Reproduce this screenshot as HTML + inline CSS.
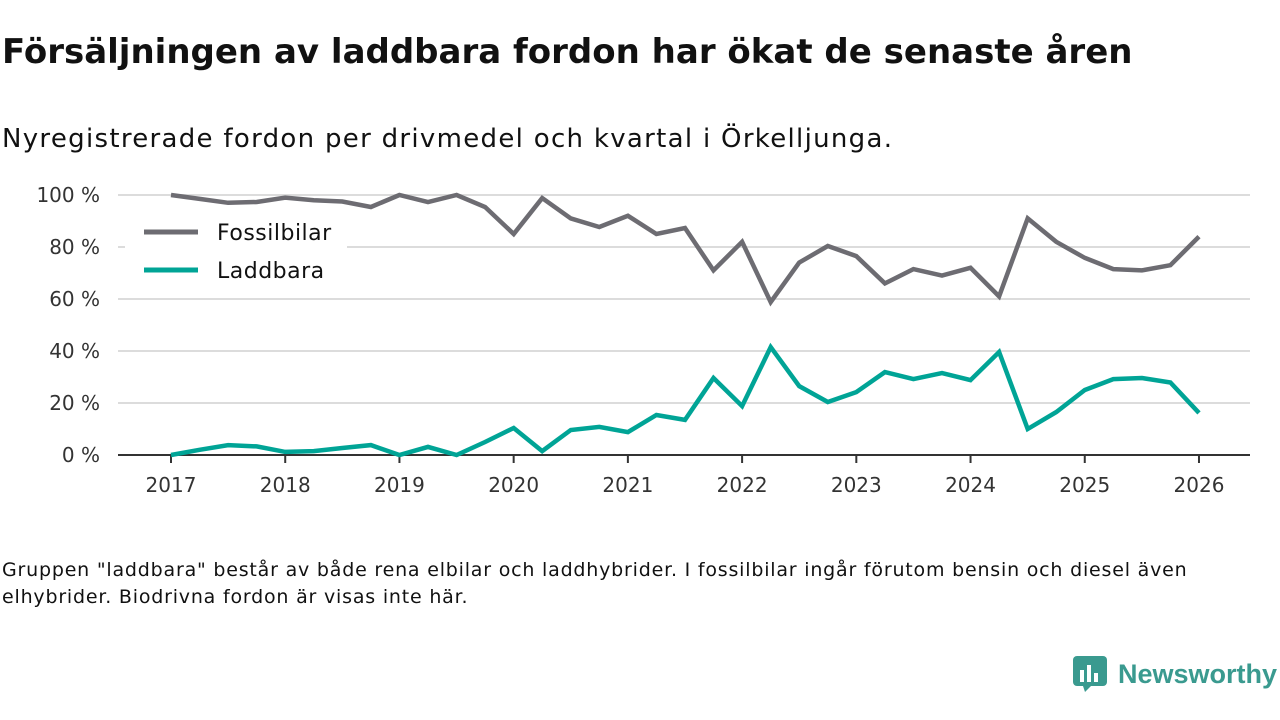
<!DOCTYPE html>
<html><head><meta charset="utf-8"><style>
body{margin:0;width:1280px;height:720px;background:#fff;font-family:"DejaVu Sans","Liberation Sans",sans-serif;color:#111;position:relative;overflow:hidden}
#title{position:absolute;left:2px;top:32px;font-size:34px;font-weight:bold;margin:0;letter-spacing:0;white-space:nowrap}
#sub{position:absolute;left:2px;top:124px;font-size:26px;letter-spacing:1.3px;white-space:nowrap}
#note{position:absolute;left:2px;top:557px;font-size:19px;line-height:27px;width:1215px;letter-spacing:0.8px}
#logo{position:absolute;left:1073px;top:656px;display:flex;align-items:center;gap:9px;color:#3a9a8f;font-family:"Liberation Sans",sans-serif;font-size:27px;font-weight:bold}
svg text{font-family:"DejaVu Sans","Liberation Sans",sans-serif}
svg{position:absolute;left:0;top:0}
</style></head><body>
<h1 id="title">Försäljningen av laddbara fordon har ökat de senaste åren</h1>
<div id="sub">Nyregistrerade fordon per drivmedel och kvartal i Örkelljunga.</div>
<svg id="chart" width="1280" height="520"></svg>
<div id="note">Gruppen "laddbara" består av både rena elbilar och laddhybrider. I fossilbilar ingår förutom bensin och diesel även elhybrider. Biodrivna fordon är visas inte här.</div>
<div id="logo"><svg width="36" height="36" style="position:static" viewBox="0 0 36 36"><rect x="0" y="0" width="34" height="30" rx="4" fill="#3a9a8f"/><polygon points="10,30 18,30 12,36" fill="#3a9a8f"/><rect x="7" y="14" width="4" height="12" fill="#fff"/><rect x="14" y="9" width="4" height="17" fill="#fff"/><rect x="21" y="17" width="4" height="9" fill="#fff"/></svg><span>Newsworthy</span></div>
<script>
const yearTicks=[2017,2018,2019,2020,2021,2022,2023,2024,2025,2026];
const yTicks=[0,20,40,60,80,100];
const fossil=[100,98.5,97,97.3,99,98,97.5,95.4,100,97.3,100,95.4,85,98.8,91,87.7,92,85,87.3,71,82,58.8,74,80.4,76.5,66,71.5,69,72,61,91,82,75.8,71.5,71,73,84];
const laddbara=[0,2,3.8,3.3,1.2,1.5,2.7,3.8,0,3.1,0,5,10.4,1.5,9.6,10.8,8.8,15.4,13.5,29.6,18.8,41.5,26.5,20.4,24.2,31.9,29.2,31.5,28.8,39.6,10,16.5,25,29.2,29.6,27.9,16.2];
const NS='http://www.w3.org/2000/svg',svg=document.getElementById('chart');
const x=t=>171+(t-2017)*114.22, y=v=>455-v*2.6;
function el(tag,attrs,txt){const e=document.createElementNS(NS,tag);for(const k in attrs)e.setAttribute(k,attrs[k]);if(txt!==undefined)e.textContent=txt;svg.appendChild(e);return e;}
yTicks.forEach(v=>{
 if(v>0){const g=el('line',{x1:118,x2:1250,y1:y(v),y2:y(v),stroke:'#dcdcdc','stroke-width':2});
 
 }
 const t=el('text',{x:100,y:y(v)+7,'text-anchor':'end','font-size':20,fill:'#333'},v+' %');
 
 
});
const ax=el('line',{x1:118,x2:1250,y1:455,y2:455,stroke:'#333','stroke-width':2});


yearTicks.forEach(yr=>{
 const tk=el('line',{x1:x(yr),x2:x(yr),y1:455,y2:463,stroke:'#333','stroke-width':2});
 
 
 const t=el('text',{x:x(yr),y:492,'text-anchor':'middle','font-size':20,fill:'#333'},yr);
 
 
});
function series(data,color,name){
 const d=data.map((v,i)=>(i?'L':'M')+x(2017+i/4).toFixed(1)+','+y(v).toFixed(1)).join('');
 const p=el('path',{d:d,fill:'none',stroke:color,'stroke-width':4.5,'stroke-linejoin':'miter'});
 
 
}
series(fossil,'#6d6c72','line-fossilbilar');
series(laddbara,'#00a496','line-laddbara');
const lb=el('rect',{x:125,y:210,width:222,height:80,fill:'#fff'});


[['Fossilbilar','#6d6c72',232],['Laddbara','#00a496',270]].forEach(([n,c,yy])=>{
 const l=el('line',{x1:144,x2:198,y1:yy,y2:yy,stroke:c,'stroke-width':5});
 
 
 const t=el('text',{x:217,y:yy+8,'font-size':22,fill:'#111','letter-spacing':0.5},n);
 
 
});
</script>
</body></html>
